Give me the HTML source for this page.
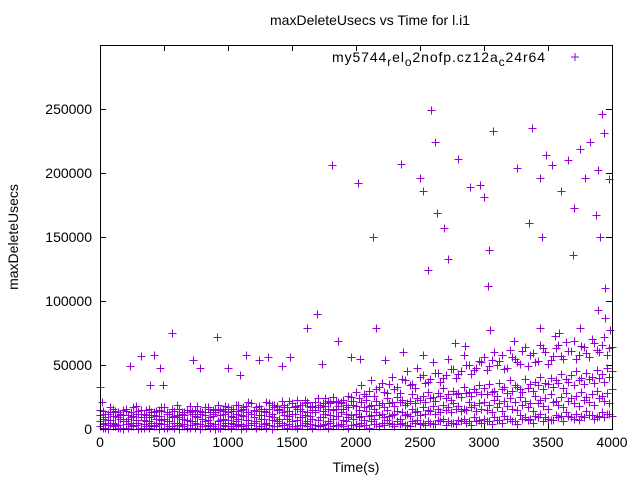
<!DOCTYPE html>
<html><head><meta charset="utf-8"><style>
body{margin:0;background:#fff;}
svg text{font-family:"Liberation Sans",sans-serif;font-size:14px;fill:#000;}
</style></head><body>
<svg id="chart" width="640" height="480" xmlns="http://www.w3.org/2000/svg">
<rect width="640" height="480" fill="#fff"/>
<text x="370" y="25" text-anchor="middle">maxDeleteUsecs vs Time for l.i1</text>
<text transform="translate(18,237) rotate(-90)" text-anchor="middle">maxDeleteUsecs</text>
<text x="356" y="472" text-anchor="middle">Time(s)</text>
<g id="axes"></g>
<g id="points"></g>
<rect x="100.5" y="45.5" width="512" height="384" fill="none" stroke="#000" stroke-width="1"/>
<g>
<text x="332" y="62" textLength="213" lengthAdjust="spacing">my5744<tspan font-size="12" dy="4">r</tspan><tspan dy="-4">el</tspan><tspan font-size="12" dy="4">o</tspan><tspan dy="-4">2nofp.cz12a</tspan><tspan font-size="12" dy="4">c</tspan><tspan dy="-4">24r64</tspan></text>
<path d="M571,57h8M575,53v8" stroke="#9400d3" stroke-width="1"/>
</g>
</svg>
<script>
const xTicks=[0,500,1000,1500,2000,2500,3000,3500,4000];
const yTicks=[0,50000,100000,150000,200000,250000];
const bandTimes=[0,40,80,120,160,200,240,280,320,360,400,440,480,520,560,600,640,680,720,760,800,840,880,920,960,
1000,1040,1080,1120,1160,1200,1240,1280,1320,1360,1400,1440,1480,1520,1560,1600,1640,1680,1720,1760,1800,1840,1880,1920,1960,
2000,2040,2080,2120,2160,2200,2240,2280,2320,2360,2400,2440,2480,2520,2560,2600,2640,2680,2720,2760,2800,2840,2880,2920,2960,
3000,3040,3080,3120,3160,3200,3240,3280,3320,3360,3400,3440,3480,3520,3560,3600,3640,3680,3720,3760,3800,3840,3880,3920,3960,4000];
const bandLowK=[2,1,3,2,1,4,2,3,1,2,3,2,4,1,2,3,2,1,3,4,2,3,2,1,3,
2,4,3,2,3,5,2,4,3,2,5,3,4,2,3,5,4,3,2,4,5,3,4,6,3,
4,5,3,6,4,5,7,4,6,5,3,6,7,5,6,4,7,8,6,5,7,8,6,9,7,
8,6,9,7,10,8,6,11,9,8,10,12,9,7,11,10,13,9,12,10,14,11,9,13,12,10];
const bandMidK=[6,5,7,4,8,6,5,7,9,6,5,8,7,6,9,5,8,7,6,9,8,7,10,6,8,
7,9,8,10,7,9,11,8,10,9,8,11,10,12,9,11,10,13,9,12,11,10,13,12,11,
12,10,14,11,13,12,15,11,14,13,12,16,14,17,15,18,16,19,17,20,18,16,21,19,20,
21,19,23,20,22,24,21,25,22,20,26,23,24,27,22,25,28,24,26,29,25,27,30,26,28,31];
const bandHighK=[11,9,13,10,12,14,9,12,15,11,13,10,14,12,16,11,13,15,12,14,13,16,12,15,14,
13,16,14,17,13,15,18,14,16,19,15,17,14,18,16,20,17,15,19,18,21,16,20,19,22,
18,21,23,19,22,20,24,21,25,23,20,27,24,26,29,25,28,32,27,30,28,33,29,31,34,
32,35,30,36,33,38,34,31,39,35,37,41,36,40,38,43,39,42,45,40,44,41,46,43,48,45];
const bandUpperK=[15,12,17,14,11,16,13,18,12,15,11,14,17,13,16,19,12,15,14,18,13,17,15,19,16,
17,14,19,16,21,15,18,14,20,17,16,19,22,17,19,23,18,21,17,24,20,22,21,19,25,
29,34,26,38,31,36,28,41,33,39,45,35,48,42,37,52,44,40,55,47,43,58,50,46,53,
56,49,60,53,47,62,55,51,64,58,52,66,60,54,63,57,68,61,55,65,59,70,62,66,58,64];
const bandTimesB=[20,60,100,140,180,220,260,300,340,380,420,460,500,540,580,620,660,700,740,780,820,860,900,940,980,
1020,1060,1100,1140,1180,1220,1260,1300,1340,1380,1420,1460,1500,1540,1580,1620,1660,1700,1740,1780,1820,1860,1900,1940,1980,
2020,2060,2100,2140,2180,2220,2260,2300,2340,2380,2420,2460,2500,2540,2580,2620,2660,2700,2740,2780,2820,2860,2900,2940,2980,
3020,3060,3100,3140,3180,3220,3260,3300,3340,3380,3420,3460,3500,3540,3580,3620,3660,3700,3740,3780,3820,3860,3900,3940,3980];
const floorBK=[1,0,2,1,0,1,2,0,1,1,2,0,1,2,1,0,2,1,1,0,2,1,0,1,2,
1,2,0,1,3,1,2,1,0,2,3,1,2,1,3,2,1,2,3,1,2,3,2,1,3,
2,3,1,4,2,3,5,2,4,3,2,5,4,3,5,4,6,3,5,4,6,5,3,6,5,
6,4,7,5,8,6,4,8,7,5,9,6,8,7,9,6,10,8,7,9,11,8,10,9,12];
const lowBK=[4,3,5,3,6,4,3,5,4,6,3,5,4,6,5,3,4,6,5,4,6,5,4,7,5,
5,6,4,7,5,6,8,5,7,6,5,8,6,7,9,6,8,7,9,6,8,10,7,9,8,
9,7,10,8,11,9,10,12,8,11,10,13,11,12,14,12,13,15,13,16,14,15,17,14,16,
15,13,17,14,18,16,15,19,17,14,20,18,16,21,19,17,22,20,18,23,21,19,24,22,20];
const midBK=[8,7,10,9,11,8,10,12,7,9,11,10,8,12,10,9,11,13,10,12,11,9,13,11,12,
10,12,11,13,12,14,11,13,12,15,13,14,12,16,14,13,15,17,14,16,15,18,16,17,19,
15,17,18,16,19,17,20,18,21,19,22,20,23,21,24,22,26,24,23,27,25,28,26,29,27,
27,29,26,31,28,30,33,29,32,30,34,31,35,33,36,32,37,34,38,35,39,36,40,37,41];
const upperBK=[14,12,16,13,15,11,17,14,12,16,13,15,17,12,14,16,13,18,15,14,17,13,16,15,18,
16,19,15,18,20,17,16,21,19,18,22,17,20,23,19,21,18,24,20,22,25,21,23,26,22,
24,27,30,26,33,29,35,31,28,38,34,32,41,36,39,44,37,42,47,40,45,50,43,48,52,
46,54,50,58,48,56,52,61,49,59,53,63,51,57,66,55,61,69,58,64,56,67,60,72,63];
const outlierTimes=[2586,2617,1813,2016,2133,2352,2500,2523,2633,2688,2563,2719,2797,2891,2969,3000,3070,3039,3031,3258,3375,3484,3531,3438,3656,3703,3695,3750,3789,3828,3922,3938,3891,3875,3906,3945,3977,3602,3352,3453,3945,3586,3891,
562,914,422,320,727,1141,1313,1484,1617,1695,2156,1859,234,469,492,391,781,1000,1094,1242,1422,1734,1961,2031,2227,2367,2523,2773,2852,3047,3234,3438,3555,3750,3984,0,16];
const outlierValuesK=[249,224,206,192,150,207,196,186,169,157,124,133,211,189,191,181,233,140,112,204,235,214,206,196,210,173,136,219,196,224,246,231,202,167,150,110,195,186,161,150,87,75,93,
75,72,58,57,54,58,56,56,79,90,79,69,49,48,34,34,48,48,42,54,49,51,56,55,54,60,58,67,65,77,69,79,73,79,77,33,21];

const NS='http://www.w3.org/2000/svg';
const X0=100,X1=612,Y0=429,Y1=45;
function xs(t){return X0+(t/4000)*(X1-X0);}
function ys(v){return Y0-(v/300000)*(Y0-Y1);}
const axes=document.getElementById('axes');
xTicks.forEach(t=>{
  const x=Math.round(xs(t))+0.5;
  const p=document.createElementNS(NS,'path');
  p.setAttribute('d','M'+x+','+Y0+'v-6M'+x+','+Y1+'v6');
  p.setAttribute('stroke','#000');
  
  
  axes.appendChild(p);
  const tx=document.createElementNS(NS,'text');
  tx.setAttribute('x',xs(t));tx.setAttribute('y',447);tx.setAttribute('text-anchor','middle');
  tx.textContent=t;
  
  
  axes.appendChild(tx);
});
yTicks.forEach(v=>{
  const y=Math.round(ys(v))+0.5;
  const p=document.createElementNS(NS,'path');
  p.setAttribute('d','M'+X0+','+y+'h6M'+X1+','+y+'h-6');
  p.setAttribute('stroke','#000');
  
  
  axes.appendChild(p);
  const tx=document.createElementNS(NS,'text');
  tx.setAttribute('x',92);tx.setAttribute('y',ys(v)+5);tx.setAttribute('text-anchor','end');
  tx.textContent=v;
  
  
  axes.appendChild(tx);
});
let d='';
function plus(t,v){const x=Math.round(xs(t))+0.5,y=Math.round(ys(v))+0.5;d+='M'+(x-4)+','+y+'h8M'+x+','+(y-4)+'v8';}
[bandLowK,bandMidK,bandHighK,bandUpperK].forEach(arr=>{bandTimes.forEach((t,i)=>plus(t,arr[i]*1000));});
[floorBK,lowBK,midBK,upperBK].forEach(arr=>{bandTimesB.forEach((t,i)=>plus(t,arr[i]*1000));});
outlierTimes.forEach((t,i)=>plus(t,outlierValuesK[i]*1000));
const pts=document.createElementNS(NS,'path');
pts.setAttribute('d',d);pts.setAttribute('stroke','#9400d3');pts.setAttribute('stroke-width','1');pts.setAttribute('fill','none');


document.getElementById('points').appendChild(pts);
</script>
</body></html>
